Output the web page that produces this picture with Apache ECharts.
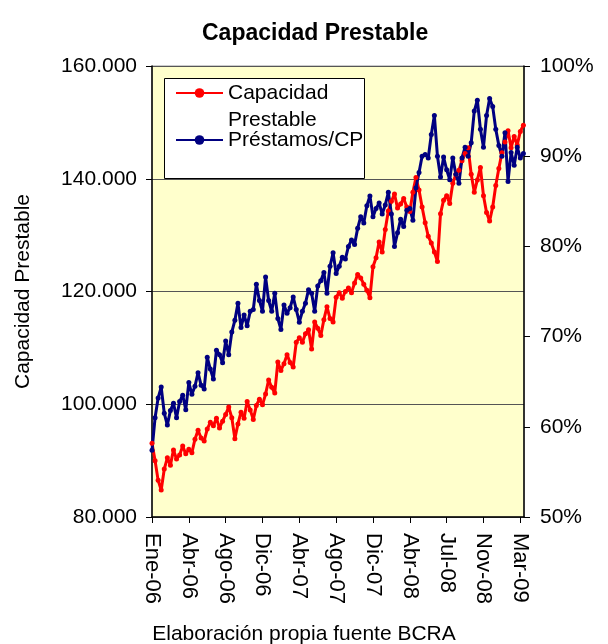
<!DOCTYPE html>
<html>
<head>
<meta charset="utf-8">
<script src="https://cdn.jsdelivr.net/npm/echarts@6/dist/echarts.min.js"></script>
<style>
  html, body { margin: 0; padding: 0; background: #fff; }
  #grafico { width: 608px; height: 644px; }
</style>
</head>
<body>
<div id="grafico"></div>
<script>
// etiquetas del eje x (una cada 12 observaciones)
const etiquetasFecha = ['Ene-06', 'Abr-06', 'Ago-06', 'Dic-06', 'Abr-07', 'Ago-07',
  'Dic-07', 'Abr-08', 'Jul-08', 'Nov-08', 'Mar-09'];
const pasoEtiqueta = 12;

// Capacidad prestable (millones de $)
const capacidadPrestable = [
  93100, 90000, 86500, 84800, 88500, 90500, 89200, 91900, 90300, 91000,
  92600, 91200, 92000, 91400, 93800, 95400, 94000, 93500, 95600, 96800,
  96200, 97500, 95800, 97000, 98200, 99500, 97600, 93900, 96500, 98600,
  97500, 100500, 99000, 97300, 99800, 100900, 99900, 101800, 104300, 103000,
  102000, 107500, 106000, 107200, 108800, 107400, 106600, 111000, 111800, 111000,
  112500, 113200, 109800, 114600, 113500, 112200, 115000, 117300, 115200, 114600,
  119000, 119800, 118800, 120000, 120600, 119800, 121500, 123000, 122400, 121300,
  120200, 118900, 124400, 126000, 128800, 127000, 131000, 134300, 136000, 137300,
  134800, 135500, 136500, 135000, 134200, 137600, 140200, 138000, 135000, 132200,
  129800, 128600, 127000, 125300, 133800, 136200, 137000, 135600, 139200, 140800,
  141500, 143200, 144500, 145500, 140800, 137600, 139800, 142000, 137000, 134000,
  132500, 135000, 138800, 141800, 144600, 146500, 148500, 145500, 147500, 146000,
  148400, 149500
];

// Prestamos / Capacidad prestable (%)
const prestamosCP = [
  57.4, 61.0, 63.2, 64.4, 61.5, 60.2, 61.8, 62.6, 61.0, 62.8,
  63.5, 61.9, 64.9, 63.6, 64.5, 66.0, 64.6, 64.2, 67.7, 66.4,
  65.3, 68.5, 68.0, 67.1, 69.5, 68.0, 70.5, 71.8, 73.7, 71.0,
  72.4, 71.2, 72.8, 73.0, 75.8, 74.0, 72.8, 76.6, 74.0, 72.8,
  74.8, 72.0, 70.8, 73.5, 72.6, 73.2, 74.4, 73.0, 71.6, 72.8,
  73.7, 75.2, 74.8, 72.8, 75.6, 76.2, 77.1, 74.8, 77.8, 79.3,
  77.0, 77.8, 78.8, 78.6, 80.0, 80.7, 80.2, 82.0, 83.3, 82.6,
  84.5, 85.6, 83.3, 84.2, 84.8, 83.6, 84.6, 86.0, 83.6, 80.0,
  81.5, 83.0, 82.2, 84.0, 84.2, 82.9, 86.5, 88.2, 90.0, 90.2,
  89.8, 92.4, 94.5, 90.0, 87.7, 89.9, 88.5, 87.4, 89.8, 88.0,
  87.0, 89.8, 91.0, 90.0, 91.5, 95.0, 96.2, 93.0, 91.0, 94.5,
  96.4, 95.5, 93.0, 91.2, 90.0, 92.6, 87.2, 90.4, 89.0, 91.0,
  89.8, 90.3
];

const fuente = 'Arial, "Liberation Sans", sans-serif';

function miles(v) {
  return String(Math.round(v)).replace(/\B(?=(\d{3})+(?!\d))/g, '.');
}

const chart = echarts.init(document.getElementById('grafico'));

const option = {
  animation: false,
  backgroundColor: '#fff',
  textStyle: { fontFamily: fuente, color: '#000' },
  title: [
    {
      text: 'Capacidad Prestable',
      left: 197,
      top: 17,
      textStyle: { fontSize: 23, fontWeight: 'bold', fontFamily: fuente, color: '#000' }
    },
    {
      text: 'Elaboración propia fuente BCRA',
      left: 'center',
      top: 619,
      textStyle: { fontSize: 21, fontWeight: 'normal', fontFamily: fuente, color: '#000' }
    }
  ],
  graphic: [{
    type: 'rect',
    left: 164,
    top: 78,
    z: 3,
    shape: { width: 200, height: 100 },
    style: { fill: '#fff', stroke: '#000', lineWidth: 1 }
  }],
  legend: [
    {
      data: ['Capacidad Prestable'],
      left: 175,
      top: 52.5,
      padding: 0,
      itemWidth: 47,
      itemHeight: 12,
      formatter: () => '\nCapacidad\nPrestable',
      textStyle: { fontSize: 21, lineHeight: 27, fontFamily: fuente, color: '#000' }
    },
    {
      data: ['Préstamos/CP'],
      left: 175,
      top: 126.5,
      padding: 0,
      itemWidth: 47,
      itemHeight: 12,
      textStyle: { fontSize: 21, lineHeight: 27, fontFamily: fuente, color: '#000' }
    }
  ],
  grid: {
    left: 152,
    right: 84,
    top: 66,
    bottom: 127,
    outerBoundsMode: 'none',
    show: true,
    backgroundColor: '#FFFFCC',
    borderColor: '#999',
    borderWidth: 1
  },
  xAxis: {
    type: 'value',
    min: 0,
    max: 121.2,
    interval: pasoEtiqueta,
    axisLine: { lineStyle: { color: '#000', width: 1.5 } },
    axisTick: { length: 6, lineStyle: { color: '#000' } },
    splitLine: { show: false },
    axisLabel: {
      rotate: -90,
      margin: 16,
      fontSize: 22,
      color: '#000',
      fontFamily: fuente,
      showMaxLabel: false,
      formatter: v => (v % pasoEtiqueta === 0 ? etiquetasFecha[v / pasoEtiqueta] || '' : '')
    }
  },
  yAxis: [
    {
      type: 'value',
      min: 80000,
      max: 160000,
      interval: 20000,
      name: 'Capacidad Prestable',
      nameLocation: 'middle',
      nameRotate: 90,
      nameGap: 118,
      nameTextStyle: { fontSize: 21, color: '#000', fontFamily: fuente },
      axisLine: { show: true, lineStyle: { color: '#000', width: 1.5 } },
      axisTick: { show: true, length: 6, lineStyle: { color: '#000' } },
      splitLine: { show: true, lineStyle: { color: '#555', width: 1 } },
      axisLabel: { margin: 15, fontSize: 21, color: '#000', fontFamily: fuente, formatter: miles }
    },
    {
      type: 'value',
      min: 50,
      max: 100,
      interval: 10,
      position: 'right',
      name: 'Préstamos/CF',
      nameLocation: 'middle',
      nameRotate: -90,
      nameGap: 61,
      nameTextStyle: { fontSize: 21, color: '#000', fontFamily: fuente },
      axisLine: { show: true, lineStyle: { color: '#000', width: 1.5 } },
      axisTick: { show: true, length: 6, lineStyle: { color: '#000' } },
      splitLine: { show: false },
      axisLabel: { margin: 16, fontSize: 21, color: '#000', fontFamily: fuente, formatter: '{value}%' }
    }
  ],
  series: [
    {
      name: 'Capacidad Prestable',
      type: 'line',
      yAxisIndex: 0,
      data: capacidadPrestable.map((v, i) => [i, v]),
      color: '#FF0000',
      symbol: 'circle',
      symbolSize: 5,
      lineStyle: { width: 3, color: '#FF0000' },
      itemStyle: { color: '#FF0000' }
    },
    {
      name: 'Préstamos/CP',
      type: 'line',
      yAxisIndex: 1,
      data: prestamosCP.map((v, i) => [i, v]),
      color: '#000080',
      symbol: 'circle',
      symbolSize: 5,
      lineStyle: { width: 3, color: '#000080' },
      itemStyle: { color: '#000080' }
    }
  ]
};

chart.setOption(option);
</script>
</body>
</html>
